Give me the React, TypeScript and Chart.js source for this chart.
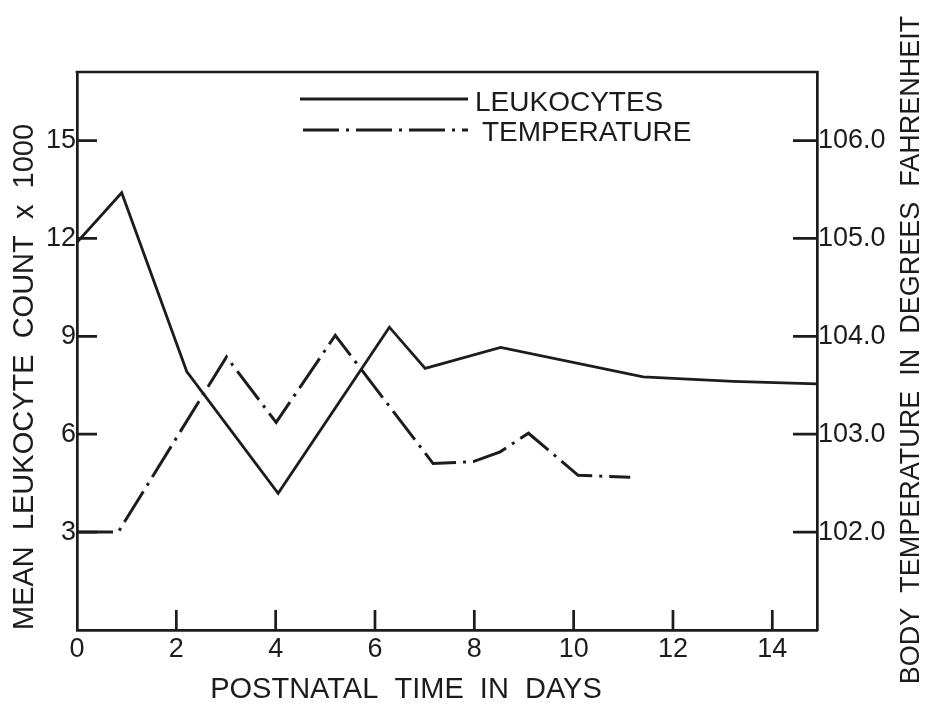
import { useEffect, useRef } from "react";
import { Chart, registerables } from "chart.js";

Chart.register(...registerables);

// ---- data ----
const leukDays = [0, 0.9, 2.21, 4.05, 6.29, 7.01, 8.53, 11.4, 13.21, 14.9];
const leukCounts = [11.88, 13.4, 7.92, 4.19, 9.28, 8.02, 8.66, 7.76, 7.62, 7.54];

const tempDays = [0, 0.83, 3.01, 4.01, 5.2, 7.17, 7.98, 8.52, 9.09, 10.09, 11.14];
const tempValues = [102.0, 102.0, 103.79, 103.12, 104.01, 102.7, 102.72, 102.82, 103.01, 102.58, 102.56];

const xTicks = [0, 2, 4, 6, 8, 10, 12, 14];
const leftTicks = [3, 6, 9, 12, 15];
const rightTicks = [102, 103, 104, 105, 106];

const xRange = [0, 14.9];
const leftRange = [0, 17.1];
const rightRange = [101, 106.7];

const seriesLabels = ["LEUKOCYTES", "TEMPERATURE"];
const xTitle = "POSTNATAL  TIME  IN  DAYS";
const leftTitle = "MEAN  LEUKOCYTE  COUNT  x  1000";
const rightTitle = "BODY  TEMPERATURE  IN  DEGREES  FAHRENHEIT";

const INK = "#1c1c1c";
const FONT = "'Liberation Sans', Arial, sans-serif";
const TEMP_DASH = [36, 7, 3, 7];

export default function App() {
  const ref = useRef<HTMLCanvasElement>(null);

  useEffect(() => {
    const canvas = ref.current;
    if (!canvas) return;

    const decor = {
      id: "decor",
      afterDraw(chart: any) {
        const { ctx, chartArea: a, scales } = chart;
        ctx.save();
        ctx.strokeStyle = INK;
        ctx.fillStyle = INK;
        ctx.lineWidth = 2.7;
        ctx.lineCap = "butt";

        // top frame line
        ctx.beginPath();
        ctx.moveTo(a.left - 1.35, a.top);
        ctx.lineTo(a.right + 1.35, a.top);
        ctx.stroke();

        // inward tick marks
        ctx.beginPath();
        xTicks.forEach((v) => {
          if (v === xRange[0]) return;
          const px = scales.x.getPixelForValue(v);
          ctx.moveTo(px, a.bottom);
          ctx.lineTo(px, a.bottom - 20);
        });
        leftTicks.forEach((v) => {
          const py = scales.y.getPixelForValue(v);
          ctx.moveTo(a.left, py);
          ctx.lineTo(a.left + 20, py);
        });
        rightTicks.forEach((v) => {
          const py = scales.y2.getPixelForValue(v);
          ctx.moveTo(a.right - 24, py);
          ctx.lineTo(a.right, py);
        });
        ctx.stroke();

        // legend inside the plot
        const ds = chart.data.datasets;
        const rows = [
          { x0: 300, x1: 468, y: 99, tx: 475, ty: 103 },
          { x0: 303, x1: 468, y: 130, tx: 482, ty: 133 },
        ];
        rows.forEach((r, i) => {
          ctx.save();
          ctx.lineWidth = ds[i].borderWidth;
          ctx.setLineDash(ds[i].borderDash || []);
          ctx.beginPath();
          ctx.moveTo(r.x0, r.y);
          ctx.lineTo(r.x1, r.y);
          ctx.stroke();
          ctx.restore();
          ctx.font = `28px ${FONT}`;
          ctx.textAlign = "left";
          ctx.textBaseline = "middle";
          ctx.fillText(ds[i].label, r.tx, r.ty);
        });

        // bottom title
        ctx.font = `29px ${FONT}`;
        ctx.textAlign = "center";
        ctx.textBaseline = "middle";
        ctx.fillText(xTitle, 406, 690);

        // right title (reads bottom to top)
        ctx.save();
        ctx.translate(912, 350);
        ctx.rotate(-Math.PI / 2);
        ctx.font = `27px ${FONT}`;
        ctx.textAlign = "center";
        ctx.textBaseline = "middle";
        ctx.fillText(rightTitle, 0, 0);
        ctx.restore();

        ctx.restore();
      },
    };

    const tickFont = { family: FONT, size: 27 };

    const chart = new Chart(canvas, {
      type: "line",
      data: {
        datasets: [
          {
            label: seriesLabels[0],
            data: leukDays.map((d, i) => ({ x: d, y: leukCounts[i] })),
            yAxisID: "y",
            borderColor: INK,
            borderWidth: 2.8,
            pointRadius: 0,
            tension: 0,
            fill: false,
          },
          {
            label: seriesLabels[1],
            data: tempDays.map((d, i) => ({ x: d, y: tempValues[i] })),
            yAxisID: "y2",
            borderColor: INK,
            borderWidth: 3,
            borderDash: TEMP_DASH,
            pointRadius: 0,
            tension: 0,
            fill: false,
          },
        ],
      },
      options: {
        responsive: false,
        animation: false,
        devicePixelRatio: 1,
        layout: { padding: { left: 0, right: 0, top: 72, bottom: 0 } },
        plugins: {
          legend: { display: false },
          tooltip: { enabled: false },
          title: { display: false },
        },
        scales: {
          x: {
            type: "linear",
            position: "bottom",
            min: xRange[0],
            max: xRange[1],
            afterBuildTicks: (s: any) => {
              s.ticks = xTicks.map((v) => ({ value: v }));
            },
            afterFit: (s: any) => {
              s.height = 81;
            },
            grid: { display: false, drawTicks: false },
            border: { display: true, color: INK, width: 2.7 },
            ticks: {
              color: INK,
              font: tickFont,
              padding: 3,
              maxRotation: 0,
              autoSkip: false,
              callback: (v: any) => String(v),
            },
          },
          y: {
            type: "linear",
            position: "left",
            min: leftRange[0],
            max: leftRange[1],
            afterBuildTicks: (s: any) => {
              s.ticks = leftTicks.map((v) => ({ value: v }));
            },
            afterFit: (s: any) => {
              s.width = 77;
            },
            grid: { display: false, drawTicks: false },
            border: { display: true, color: INK, width: 2.7 },
            ticks: {
              color: INK,
              font: tickFont,
              padding: 1,
              autoSkip: false,
              callback: (v: any) => String(v),
            },
            title: {
              display: true,
              text: leftTitle,
              color: INK,
              font: { family: FONT, size: 29 },
              align: "start",
              padding: { top: 8, bottom: 0 },
            },
          },
          y2: {
            type: "linear",
            position: "right",
            min: rightRange[0],
            max: rightRange[1],
            afterBuildTicks: (s: any) => {
              s.ticks = rightTicks.map((v) => ({ value: v }));
            },
            afterFit: (s: any) => {
              s.width = 112;
            },
            grid: { display: false, drawTicks: false },
            border: { display: true, color: INK, width: 2.7 },
            ticks: {
              color: INK,
              font: tickFont,
              padding: 1,
              autoSkip: false,
              callback: (v: any) => Number(v).toFixed(1),
            },
          },
        },
      },
      plugins: [decor],
    } as any);

    return () => chart.destroy();
  }, []);

  return (
    <div
      style={{
        position: "fixed",
        left: 0,
        top: 0,
        width: 929,
        height: 711,
        background: "#ffffff",
      }}
    >
      <canvas ref={ref} width={929} height={711} style={{ display: "block" }} />
    </div>
  );
}
